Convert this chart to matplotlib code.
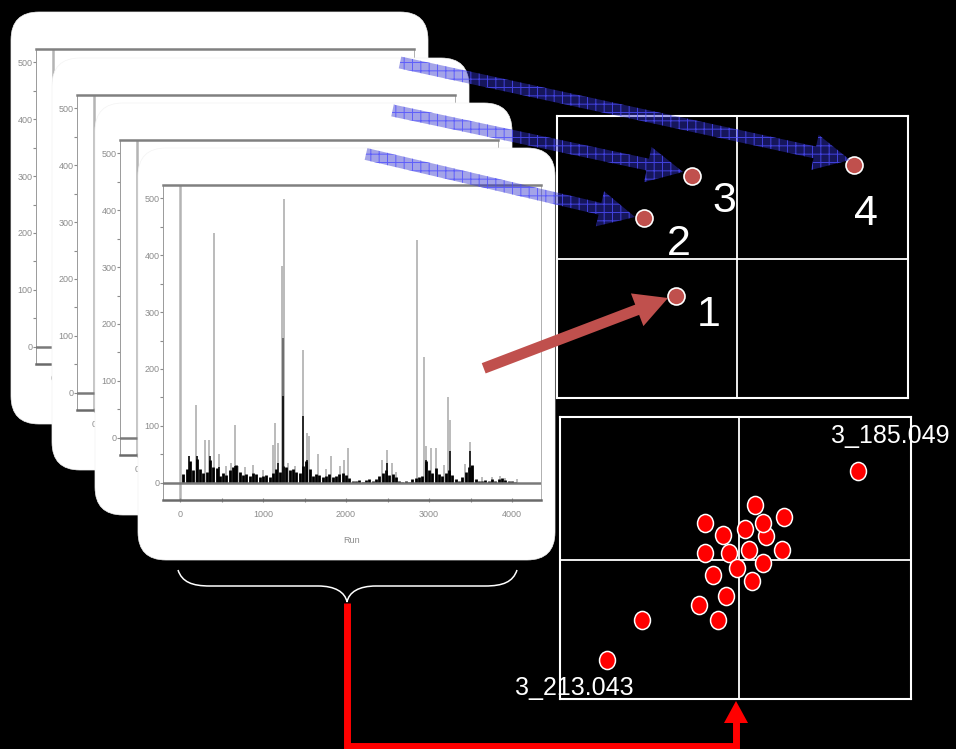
import numpy as np
import matplotlib
matplotlib.use('Agg')
import matplotlib.pyplot as plt
from matplotlib import font_manager
from matplotlib.patches import FancyBboxPatch, FancyArrow, Polygon, PathPatch
from matplotlib.path import Path
from matplotlib.markers import MarkerStyle
from matplotlib.transforms import Affine2D

W, H = 956, 749
installed = {f.name for f in font_manager.fontManager.ttflist}
SANS = 'Liberation Sans' if 'Liberation Sans' in installed else 'DejaVu Sans'
NARROW = 'Liberation Sans Narrow' if 'Liberation Sans Narrow' in installed else SANS
plt.rcParams['font.family'] = [SANS, 'DejaVu Sans']
plt.rcParams['hatch.linewidth'] = 0.7

# ---- spectrum (run index vs intensity) ----
gray_run = [112, 193, 201, 301, 350, 414, 466, 560, 610, 663, 700, 780, 880, 1000,
            1126, 1150, 1182, 1234, 1258, 1300, 1380, 1479, 1528, 1548, 1668, 1760,
            1817, 1930, 1970, 2022, 2432, 2492, 2553, 2600, 2854, 2935, 2967, 3027,
            3083, 3183, 3224, 3248, 3429, 3497, 3640, 3760, 3859, 3920, 4060]
gray_h = [47, 137, 48, 76, 76, 439, 50, 30, 35, 102, 30, 28, 32, 22,
          67, 105, 70, 380, 498, 35, 30, 234, 88, 82, 50, 25,
          48, 30, 41, 61, 41, 58, 35, 20, 426, 221, 65, 61,
          61, 32, 150, 110, 33, 71, 10, 10, 13, 8, 7]
dark_run = [1246]
dark_h = [254]
black_run = [112, 201, 362, 466, 663, 1182, 1238, 1487, 1528, 2492, 2967, 3256, 3497, 3520]
black_h = [47, 48, 47, 28, 30, 35, 152, 117, 40, 35, 40, 56, 56, 30]
noise_run = np.arange(40, 4041, 40)
noise_h = [15, 25, 38, 22, 42, 25, 18, 20, 40, 28,
           26, 12, 18, 14, 22, 28, 32, 20, 14, 16,
           12, 18, 15, 10, 12, 14, 10, 18, 25, 20,
           30, 28, 22, 25, 20, 18, 30, 38, 25, 12,
           15, 14, 10, 12, 16, 10, 12, 16, 18, 14,
           8, 4, 3, 5, 2, 5, 6, 4, 7, 12,
           18, 22, 14, 16, 10, 4, 2, 3, 2, 6,
           8, 10, 12, 38, 22, 18, 26, 15, 12, 18,
           22, 14, 6, 4, 10, 20, 28, 32, 6, 4,
           3, 5, 3, 6, 4, 7, 8, 5, 4, 3, 2]
x_major = [0, 1000, 2000, 3000, 4000]
x_minor = [500, 1500, 2500, 3500]
y_major = [0, 100, 200, 300, 400, 500]
y_minor = [50, 150, 250, 350, 450]

# ---- score plot 1: four numbered samples ----
s1_pc1 = [-0.35, -0.53, -0.26, 0.67]
s1_pc2 = [-0.26, 0.29, 0.59, 0.67]
s1_labels = ['1', '2', '3', '4']

# ---- score plot 2: variables ----
s2_pc1 = [0.678, 0.091, 0.259, -0.194, 0.153, 0.139, 0.034, -0.090, -0.194, -0.057,
          0.059, 0.244, 0.139, -0.013, -0.147, 0.076, -0.076, -0.227, -0.122, -0.556, -0.756]
s2_pc2 = [0.631, 0.390, 0.307, 0.260, 0.172, 0.265, 0.220, 0.177, 0.048, 0.048,
          0.071, 0.071, -0.019, -0.059, -0.106, -0.149, -0.253, -0.319, -0.426, -0.426, -0.709]
s2_names = {0: '3_185.049', 20: '3_213.043'}

fig = plt.figure(figsize=(W / 100, H / 100), dpi=100, facecolor='black')


def px_axes(x0, y0, x1, y1, z):
    ax = fig.add_axes([x0 / W, 1 - y1 / H, (x1 - x0) / W, (y1 - y0) / H])
    ax.set_zorder(z)
    return ax


def draw_spectrum(ax):
    ax.set_facecolor('none')
    ax.set_xlim(-205, 4349)
    ax.set_ylim(-30, 523)
    ax.axvline(0, color='#b4b4b4', lw=1.8, zorder=0)
    ax.vlines(gray_run, 0, gray_h, color='#a8a8a8', lw=1.1, zorder=1)
    ax.vlines(noise_run, 0, noise_h, color='black', lw=2.0, zorder=2)
    ax.vlines(dark_run, 0, dark_h, color='#5a5a5a', lw=1.1, zorder=2)
    ax.vlines(black_run, 0, black_h, color='black', lw=1.1, zorder=3)
    ax.axhline(0, color='#7a7a7a', lw=1.8, zorder=4)
    ax.spines['top'].set(color='#808080', lw=1.8)
    ax.spines['bottom'].set(color='#6a6a6a', lw=1.8)
    ax.spines['left'].set(color='#9a9a9a', lw=0.7)
    ax.spines['right'].set(color='#b0b0b0', lw=0.7)
    ax.set_xticks(x_major)
    ax.set_xticks(x_minor, minor=True)
    ax.set_yticks(y_major)
    ax.set_yticks(y_minor, minor=True)
    ax.tick_params(which='both', colors='#8c8c8c', labelsize=6.5, width=0.8)
    ax.tick_params(axis='x', which='both', direction='inout', length=3, pad=6)
    ax.tick_params(axis='y', which='both', direction='out', length=2, pad=0.5)
    for lab in ax.get_xticklabels() + ax.get_yticklabels():
        lab.set_family(NARROW)
    ax.set_xlabel('Run', fontsize=6.5, color='#8c8c8c', labelpad=12, family=NARROW)


card_left = [11, 52, 95, 138]
card_top = [12, 58, 103, 148]
for k in range(4):
    cl, ct = card_left[k], card_top[k]
    cax = px_axes(cl, ct, cl + 417, ct + 412, 10 + 2 * k)
    cax.set_xlim(0, 417)
    cax.set_ylim(412, 0)
    cax.axis('off')
    cax.add_patch(FancyBboxPatch((0, 0), 417, 412, boxstyle='round,pad=0,rounding_size=28',
                                 fc='white', ec='#f3f3f3', lw=0.5, clip_on=False))
    sax = px_axes(cl + 25, ct + 37, cl + 403, ct + 352, 11 + 2 * k)
    draw_spectrum(sax)


def score_axes(box, xlim):
    ax = px_axes(*box, 30)
    ax.set_facecolor('black')
    ax.set_xlim(xlim)
    ax.set_ylim(-0.986, 1.014)
    for s in ax.spines.values():
        s.set_color('white')
        s.set_linewidth(1.5)
    ax.set_xticks([])
    ax.set_yticks([])
    ax.axvline(0, color='white', lw=1.3, zorder=1)
    ax.axhline(0, color='white', lw=1.3, zorder=1)
    return ax


# upper score plot
ax1 = score_axes((557, 116, 908, 398), (-1.029, 0.977))
ax1.scatter(s1_pc1, s1_pc2, s=150, c='#c0504d', edgecolors='white', linewidths=1.2, zorder=3)
lab_off = [(33, -30), (34, -37), (33, -36), (12, -60)]
for x, y, t, off in zip(s1_pc1, s1_pc2, s1_labels, lab_off):
    ax1.annotate(t, xy=(x, y), xytext=off, textcoords='offset pixels', ha='center',
                 va='baseline', color='white', fontsize=31, annotation_clip=False)

# lower score plot
ell = MarkerStyle(Affine2D().scale(0.88, 1.0).transform_path(Path.unit_circle()))
ax2 = score_axes((560, 417, 911, 699), (-1.023, 0.983))
ax2.scatter(s2_pc1, s2_pc2, s=170, c='#ff0000', marker=ell, edgecolors='white',
            linewidths=1.1, zorder=3)
name_off = {0: (33, 28), 20: (-32, -35)}
for i, name in s2_names.items():
    ax2.annotate(name, xy=(s2_pc1[i], s2_pc2[i]), xytext=name_off[i], textcoords='offset pixels',
                 ha='center', va='baseline', color='white', fontsize=18, annotation_clip=False)

# overlay: arrows, brace, connector
ov = px_axes(0, 0, W, H, 40)
ov.set_xlim(0, W)
ov.set_ylim(H, 0)
ov.axis('off')

blue_arrows = [(400, 62.5, 850, 160), (392.5, 110.5, 683, 172), (366, 154, 635, 217)]
for x0, y0, x1, y1 in blue_arrows:
    ov.add_patch(FancyArrow(x0, y0, x1 - x0, y1 - y0, width=12, head_width=36, head_length=36,
                            length_includes_head=True, fc=(0.2, 0.2, 0.8, 0.45),
                            ec=(0.3, 0.3, 1.0, 0.8), lw=0, hatch='++'))

ov.add_patch(FancyArrow(483.7, 368.3, 668 - 483.7, 298 - 368.3, width=11, head_width=35,
                        head_length=33, length_includes_head=True, fc='#c0504d', ec='none'))

brace = Path([(178, 570), (182, 582), (192, 586), (210, 586),
              (318, 586),
              (335, 586), (345, 592), (347, 602),
              (349, 592), (359, 586), (376, 586),
              (485, 586),
              (503, 586), (513, 582), (517, 570)],
             [Path.MOVETO, Path.CURVE4, Path.CURVE4, Path.CURVE4,
              Path.LINETO,
              Path.CURVE4, Path.CURVE4, Path.CURVE4,
              Path.CURVE4, Path.CURVE4, Path.CURVE4,
              Path.LINETO,
              Path.CURVE4, Path.CURVE4, Path.CURVE4])
ov.add_patch(PathPatch(brace, fc='none', ec='white', lw=1.1))

ov.plot([347, 347, 736, 736], [603, 745.5, 745.5, 722], color='#ff0000', lw=5,
        solid_joinstyle='miter', solid_capstyle='butt')
ov.add_patch(Polygon([(724, 723), (748, 723), (736, 701)], closed=True, fc='#ff0000', ec='none'))

fig.savefig('out.png', dpi=100, facecolor='black')
